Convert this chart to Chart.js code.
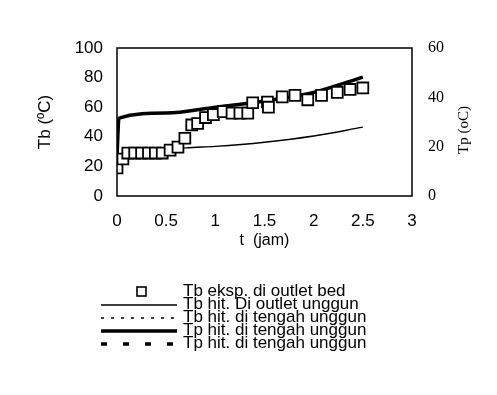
<!DOCTYPE html>
<html>
<head>
<meta charset="utf-8">
<script src="https://cdn.jsdelivr.net/npm/chart.js@4"></script>
<style>
  html, body { margin: 0; padding: 0; background: #fff; }
  #c { display: block; }
</style>
</head>
<body>
<canvas id="c" width="497" height="395"></canvas>
<script>
// ---- data ----
const seriesLabels = [
  "Tb eksp. di outlet bed",
  "Tb hit. Di outlet unggun",
  "Tb hit. di tengah unggun",
  "Tp hit. di tengah unggun",
  "Tp hit. di tengah unggun"
];
// experimental Tb (left axis)
const expT  = [0, 0.06, 0.11, 0.18, 0.25, 0.32, 0.39, 0.46, 0.54, 0.62, 0.69, 0.76, 0.82, 0.90, 0.98, 1.08, 1.17, 1.25, 1.33, 1.38, 1.53, 1.54, 1.68, 1.81, 1.94, 2.08, 2.24, 2.37, 2.50];
const expTb = [19, 25, 29, 29, 29, 29, 29, 29, 31, 33, 39, 48, 49, 53, 55, 57, 56, 56, 56, 63, 63.5, 60, 67, 68, 65, 68, 70, 72, 73];
// calculated Tb at outlet (left axis)
const tbOutT = [0, 0.03, 0.5, 0.7, 1.0, 1.5, 2.0, 2.5];
const tbOutV = [20, 28, 31, 32.5, 33.5, 36.3, 40.5, 46.5];
// calculated Tp middle of bed (right axis)
const tpT = [0, 0.02, 0.5, 1.0, 1.5, 2.0, 2.5];
const tpV = [15.8, 31.6, 33.6, 36, 38.5, 42, 48.2];
// tick labels
const xTicks = [0, 0.5, 1, 1.5, 2, 2.5, 3];
const xTickLabels = ["0", "0.5", "1", "1.5", "2", "2.5", "3"];
const yLeftTicks = [0, 20, 40, 60, 80, 100];
const yRightTicks = [0, 20, 40, 60];

const pts = (xs, ys) => xs.map((x, i) => ({ x: x, y: ys[i] }));

const legendPlugin = {
  id: 'customLegend',
  afterDraw(chart) {
    const ctx = chart.ctx;
    const rows = [291, 304, 317, 330, 343];
    ctx.save();
    chart.data.datasets.forEach((ds, i) => {
      const y = rows[i];
      ctx.strokeStyle = '#000';
      ctx.fillStyle = '#fff';
      if (ds.legendKind === 'marker') {
        ctx.lineWidth = 1.6;
        ctx.fillRect(137, y - 4, 9, 9);
        ctx.strokeRect(137, y - 4, 9, 9);
      } else {
        ctx.lineWidth = ds.borderWidth;
        ctx.setLineDash(ds.borderDash || []);
        ctx.beginPath();
        ctx.moveTo(101, y + 1);
        ctx.lineTo(177, y + 1);
        ctx.stroke();
        ctx.setLineDash([]);
      }
      ctx.fillStyle = '#000';
      ctx.font = '17px "Liberation Sans", Arial, sans-serif';
      ctx.textBaseline = 'middle';
      ctx.textAlign = 'left';
      ctx.fillText(ds.label, 183, y);
    });
    // right axis title (reads bottom-to-top)
    ctx.save();
    ctx.translate(464, 130);
    ctx.rotate(-Math.PI / 2);
    ctx.font = '15px "Liberation Serif", "Times New Roman", serif';
    ctx.textAlign = 'center';
    ctx.textBaseline = 'middle';
    ctx.fillStyle = '#000';
    ctx.fillText('Tp (oC)', 0, 0);
    ctx.restore();
    ctx.restore();
  }
};

const boxPlugin = {
  id: 'box',
  afterDatasetsDraw(chart) {
    const a = chart.chartArea;
    const ctx = chart.ctx;
    ctx.save();
    ctx.strokeStyle = '#000';
    ctx.lineWidth = 1.5;
    ctx.strokeRect(a.left, a.top, a.right - a.left, a.bottom - a.top);
    ctx.restore();
  }
};

new Chart(document.getElementById('c'), {
  type: 'scatter',
  data: {
    datasets: [
      {
        label: seriesLabels[0], legendKind: 'marker',
        data: pts(expT, expTb), yAxisID: 'y',
        showLine: false, pointStyle: 'rect', pointRadius: 7.7,
        pointBackgroundColor: '#fff', pointBorderColor: '#000', pointBorderWidth: 1.8,
        order: 0
      },
      {
        label: seriesLabels[1], data: pts(tbOutT, tbOutV), yAxisID: 'y',
        showLine: true, borderColor: '#000', borderWidth: 1.4, pointRadius: 0,
        cubicInterpolationMode: 'monotone', order: 2
      },
      {
        label: seriesLabels[2], data: [], yAxisID: 'y',
        showLine: true, borderColor: '#000', borderWidth: 1.3, borderDash: [3, 7], pointRadius: 0,
        order: 3
      },
      {
        label: seriesLabels[3], data: pts(tpT, tpV), yAxisID: 'y2',
        showLine: true, borderColor: '#000', borderWidth: 3.5, pointRadius: 0,
        cubicInterpolationMode: 'monotone', order: 1
      },
      {
        label: seriesLabels[4], data: [], yAxisID: 'y2',
        showLine: true, borderColor: '#000', borderWidth: 3.5, borderDash: [6, 16], pointRadius: 0,
        order: 4
      }
    ]
  },
  options: {
    responsive: false,
    animation: false,
    layout: { padding: { left: 0, right: 0, top: 48, bottom: 145 } },
    plugins: { legend: { display: false }, tooltip: { enabled: false } },
    scales: {
      x: {
        type: 'linear', min: 0, max: 3,
        afterBuildTicks: s => { s.ticks = xTicks.map(v => ({ value: v })); },
        afterFit: s => { s.height = 54; },
        grid: { display: false, drawTicks: false },
        border: { display: false },
        ticks: { color: '#000', padding: 15, maxRotation: 0,
          callback: (v) => xTickLabels[xTicks.indexOf(v)],
          font: { family: '"Liberation Sans", Arial, sans-serif', size: 17 } },
        title: { display: true, text: 't  (jam)', color: '#000', padding: 0,
          font: { family: '"Liberation Sans", Arial, sans-serif', size: 16 } }
      },
      y: {
        type: 'linear', position: 'left', min: 0, max: 100,
        afterBuildTicks: s => { s.ticks = yLeftTicks.map(v => ({ value: v })); },
        afterFit: s => { s.width = 117; },
        grid: { display: false, drawTicks: false },
        border: { display: false },
        ticks: { color: '#000', padding: 14,
          font: { family: '"Liberation Sans", Arial, sans-serif', size: 17 } },
        title: { display: true, text: 'Tb (ºC)', color: '#000', padding: { top: 35, bottom: 0 },
          font: { family: '"Liberation Sans", Arial, sans-serif', size: 17 } }
      },
      y2: {
        type: 'linear', position: 'right', min: 0, max: 60,
        afterBuildTicks: s => { s.ticks = yRightTicks.map(v => ({ value: v })); },
        afterFit: s => { s.width = 85; },
        grid: { display: false, drawTicks: false },
        border: { display: false },
        ticks: { color: '#000', padding: 16,
          font: { family: '"Liberation Serif", "Times New Roman", serif', size: 16 } }
      }
    }
  },
  plugins: [boxPlugin, legendPlugin]
});
</script>
</body>
</html>
